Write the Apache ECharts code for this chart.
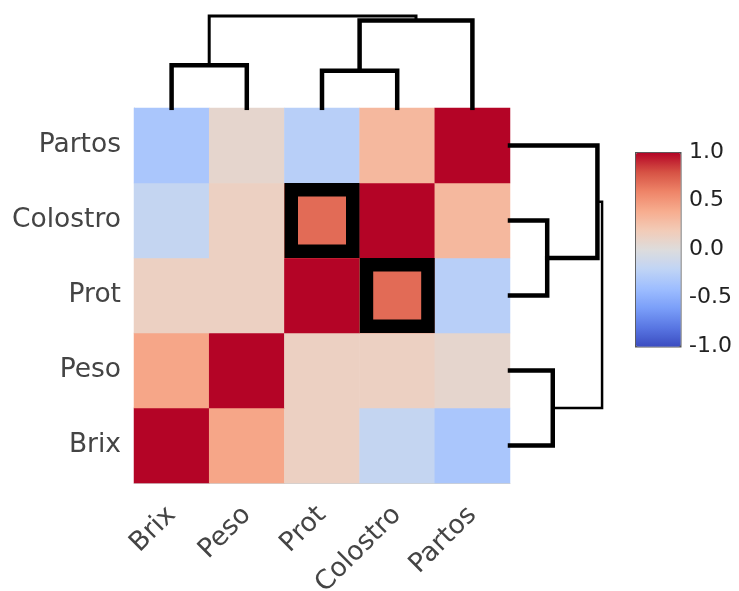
<!DOCTYPE html>
<html>
<head>
<meta charset="utf-8">
<script src="https://cdn.jsdelivr.net/npm/echarts@6/dist/echarts.min.js"></script>
<style>html,body{margin:0;padding:0;background:#fff}#c{width:739px;height:591px}</style>
</head>
<body>
<div id="c"></div>
<script>
// ---- data ----
const labels = ['Brix', 'Peso', 'Prot', 'Colostro', 'Partos'];
const rowBrix     = [1.00, 0.43, 0.14, -0.17, -0.33];
const rowPeso     = [0.43, 1.00, 0.14, 0.14, 0.08];
const rowProt     = [0.14, 0.14, 1.00, 0.70, -0.25];
const rowColostro = [-0.17, 0.14, 0.70, 1.00, 0.32];
const rowPartos   = [-0.33, 0.08, -0.25, 0.32, 1.00];
const highlighted = [['Prot', 'Colostro'], ['Colostro', 'Prot']]; // [column, row]
// linkage: [childA, childB, height]; leaves 0..4 in label order, new clusters 5..8
const merges = [[0, 1, 0.46], [2, 3, 0.40], [6, 4, 0.94], [5, 7, 0.99]];
const colorTicks = [-1, -0.5, 0, 0.5, 1];
const coolwarm = ['#3b4cc0', '#5977e3', '#7b9ff9', '#9ebeff', '#c0d4f5', '#dddcdc',
                  '#f2cbb7', '#f7ac8e', '#ee8468', '#d65244', '#b40426'];

// ---- build ----
const rows = [rowBrix, rowPeso, rowProt, rowColostro, rowPartos];
const heat = [];
rows.forEach((r, yi) => r.forEach((v, xi) => heat.push([xi, yi, v])));
const hl = highlighted.map(([c, r]) => {
  const xi = labels.indexOf(c), yi = labels.indexOf(r);
  return [xi, yi, rows[yi][xi]];
});

const pos = labels.map((_, i) => i + 0.5);
const hgt = labels.map(() => 0);
const links = [];
merges.forEach(([a, b, h]) => {
  links.push({ a: pos[a], b: pos[b], ha: hgt[a], hb: hgt[b], h: h, root: false });
  pos.push((pos[a] + pos[b]) / 2);
  hgt.push(h);
});
links[links.length - 1].root = true;

const font = 'DejaVu Sans';
const series = [
  { type: 'heatmap', xAxisIndex: 0, yAxisIndex: 0, data: heat, silent: true },
  { type: 'scatter', xAxisIndex: 0, yAxisIndex: 0, data: hl, symbol: 'rect', symbolSize: 61.5,
    itemStyle: { borderColor: '#000', borderWidth: 13.5, opacity: 1 }, silent: true, z: 5 }
];
links.forEach(l => {
  const ls = { color: '#000', width: l.root ? 3 : 4.5, join: 'miter', cap: 'square' };
  series.push({ type: 'line', xAxisIndex: 1, yAxisIndex: 1, showSymbol: false, silent: true,
    data: [[l.a, l.ha], [l.a, l.h], [l.b, l.h], [l.b, l.hb]], lineStyle: ls });
  series.push({ type: 'line', xAxisIndex: 2, yAxisIndex: 2, showSymbol: false, silent: true,
    data: [[l.ha, l.a], [l.h, l.a], [l.h, l.b], [l.hb, l.b]],
    lineStyle: Object.assign({}, ls, { width: l.root ? 2.5 : 4.5 }) });
});

const hidden = { show: false };
const option = {
  animation: false,
  backgroundColor: '#fff',
  textStyle: { fontFamily: font },
  grid: [
    { left: 134, top: 108, width: 376, height: 375, outerBoundsMode: 'none', containLabel: false },
    { left: 134, top: 15, width: 376, height: 93, outerBoundsMode: 'none', containLabel: false },
    { left: 510, top: 108, width: 93, height: 375, outerBoundsMode: 'none', containLabel: false },
    { left: 635, top: 152, width: 45, height: 194, outerBoundsMode: 'none', containLabel: false }
  ],
  xAxis: [
    { gridIndex: 0, type: 'category', data: labels,
      axisLine: { lineStyle: { color: '#d0d0d0' } },
      axisTick: { alignWithLabel: true, length: 9, lineStyle: { color: '#c8c8c8' }, interval: (i) => i !== 0 },
      axisLabel: { rotate: 45, fontSize: 26.5, color: '#444', margin: 28, fontFamily: font },
      splitLine: hidden },
    { gridIndex: 1, type: 'value', min: 0, max: 5, show: false },
    { gridIndex: 2, type: 'value', min: 0, max: 1, show: false },
    { gridIndex: 3, type: 'value', min: 0, max: 1, show: false }
  ],
  yAxis: [
    { gridIndex: 0, type: 'category', data: labels,
      axisLine: { lineStyle: { color: '#d0d0d0' } },
      axisTick: { alignWithLabel: true, length: 8, lineStyle: { color: '#c8c8c8' } },
      axisLabel: { fontSize: 26.5, color: '#444', margin: 13, fontFamily: font },
      splitLine: hidden },
    { gridIndex: 1, type: 'value', min: 0, max: 1, show: false },
    { gridIndex: 2, type: 'value', min: 0, max: 5, show: false },
    { gridIndex: 3, type: 'value', min: -1, max: 1, interval: 0.5, position: 'right',
      data: colorTicks,
      axisLine: { show: false },
      axisTick: { show: true, length: 5, lineStyle: { color: '#444' } },
      axisLabel: { fontSize: 22, color: '#222', margin: 9, fontFamily: font,
                   formatter: v => v.toFixed(1) },
      splitLine: hidden }
  ],
  visualMap: {
    type: 'continuous', min: -1, max: 1, dimension: 2, seriesIndex: [0, 1],
    calculable: false, orient: 'vertical', left: 635, top: 152,
    itemWidth: 45, itemHeight: 194, text: ['', ''], padding: 0,
    borderColor: '#555', borderWidth: 1.5,
    inRange: { color: coolwarm }
  },
  series: series
};
echarts.init(document.getElementById('c'), null, { renderer: 'canvas' }).setOption(option);
</script>
</body>
</html>
